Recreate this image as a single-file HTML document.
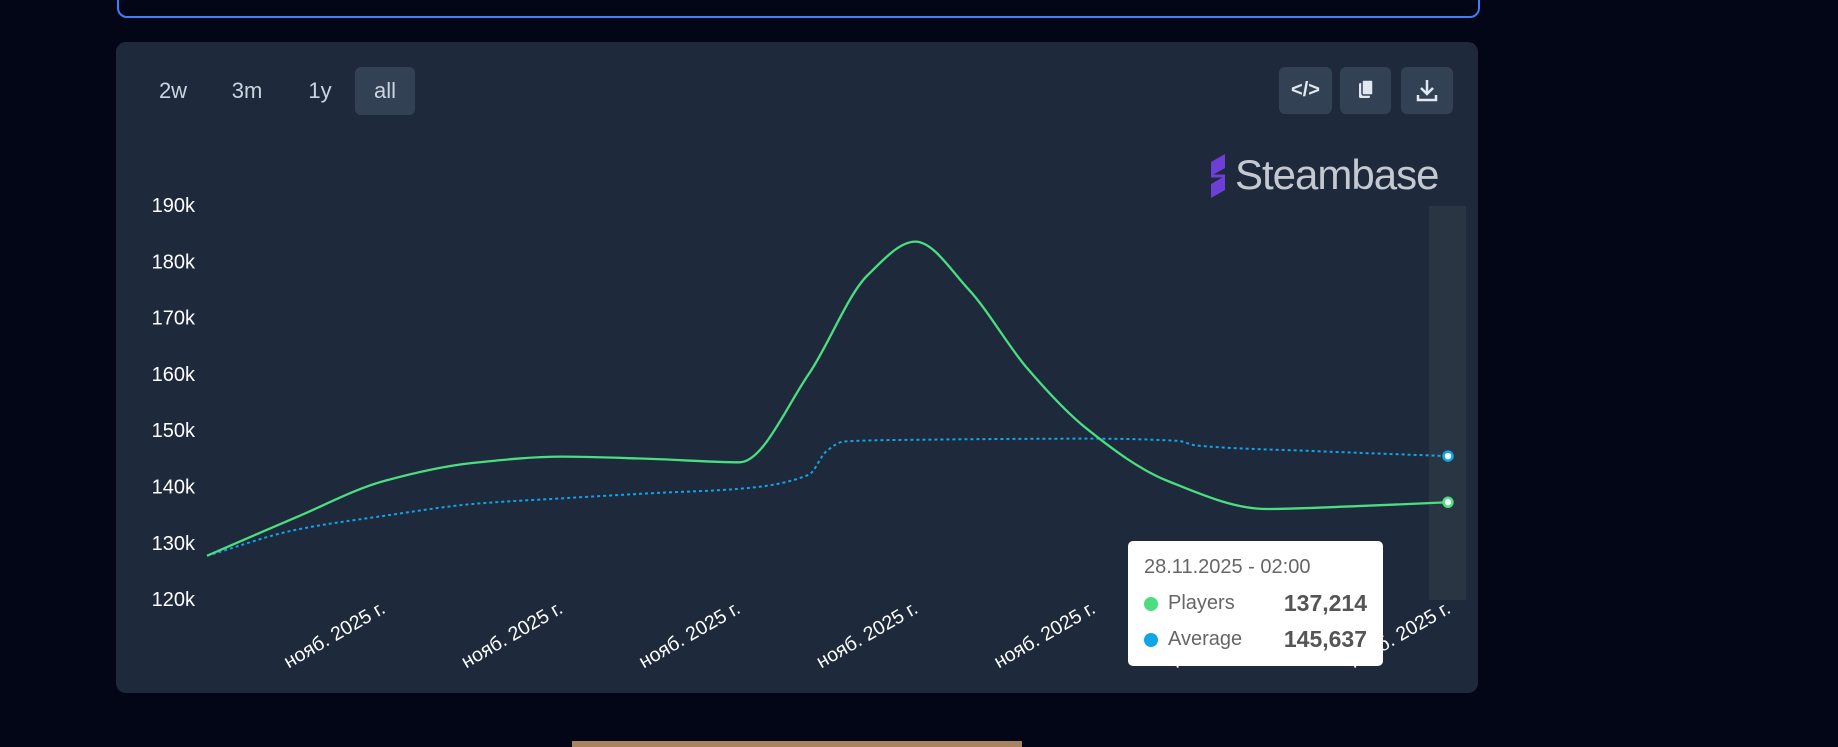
<!DOCTYPE html>
<html><head><meta charset="utf-8">
<style>
html,body{margin:0;padding:0;background:#020617;width:1838px;height:747px;overflow:hidden;font-family:"Liberation Sans",sans-serif}
.abs{position:absolute}
</style></head>
<body>
<div class="abs" style="left:117px;top:-20px;width:1359px;height:34px;border:2.5px solid #3b82f6;border-radius:10px;"></div>
<div class="abs" style="left:116px;top:42px;width:1362px;height:651px;background:#1e293b;border-radius:10px;"></div>
<div class="abs" style="left:152px;top:67px;width:42px;height:48px;line-height:48px;color:#cbd5e1;font-size:22px;text-align:center">2w</div>
<div class="abs" style="left:224px;top:67px;width:46px;height:48px;line-height:48px;color:#cbd5e1;font-size:22px;text-align:center">3m</div>
<div class="abs" style="left:300px;top:67px;width:40px;height:48px;line-height:48px;color:#cbd5e1;font-size:22px;text-align:center">1y</div>
<div class="abs" style="left:355px;top:67px;width:60px;height:48px;line-height:48px;background:#334155;border-radius:6px;color:#cbd5e1;font-size:22px;text-align:center">all</div>
<div class="abs" style="left:1279px;top:67px;width:53px;height:47px;background:#334155;border-radius:6px;color:#e2e8f0;font-size:20px;font-weight:bold;text-align:center;line-height:47px">&lt;/&gt;</div>
<div class="abs" style="left:1340px;top:67px;width:51px;height:47px;background:#334155;border-radius:6px;">
<svg width="51" height="47"><rect x="19" y="16" width="11" height="15" rx="1.5" fill="#e2e8f0"/><rect x="22" y="13" width="11" height="15" rx="1.5" fill="#e2e8f0" stroke="#334155" stroke-width="1.5"/></svg></div>
<div class="abs" style="left:1401px;top:67px;width:52px;height:47px;background:#334155;border-radius:6px;">
<svg width="52" height="47"><path d="M26 13v13M20 21l6 6 6-6" stroke="#e2e8f0" stroke-width="2.5" fill="none"/><path d="M17 28v5h18v-5" stroke="#e2e8f0" stroke-width="2.5" fill="none"/></svg></div>
<div class="abs" style="left:1207px;top:152px;width:245px;height:46px;">
<svg width="24" height="46" style="position:absolute;left:0;top:2px"><path d="M4 8 L18 0 L18 14 L4 22 Z M4 30 L18 22 L18 36 L4 44 Z" fill="#6d3fd6"/><path d="M4 22 L18 22" stroke="#6d3fd6" stroke-width="3"/></svg>
<span style="position:absolute;left:28px;top:0;font-size:42px;color:#c4c8d0;line-height:46px;letter-spacing:-1px">Steambase</span></div>
<svg class="abs" style="left:0;top:0" width="1838" height="747" id="chart"></svg>
<div class="abs" style="left:1128px;top:541px;width:255px;height:125px;background:#fff;border-radius:5px;color:#666;">
<div style="position:absolute;left:16px;top:15px;font-size:20px">28.11.2025 - 02:00</div>
<div style="position:absolute;left:16px;top:56px;width:14px;height:14px;border-radius:50%;background:#4ade80"></div>
<div style="position:absolute;left:40px;top:51px;font-size:20px">Players</div>
<div style="position:absolute;right:16px;top:49px;font-size:23px;font-weight:bold;color:#555">137,214</div>
<div style="position:absolute;left:16px;top:92px;width:14px;height:14px;border-radius:50%;background:#0ea5e9"></div>
<div style="position:absolute;left:40px;top:87px;font-size:20px">Average</div>
<div style="position:absolute;right:16px;top:85px;font-size:23px;font-weight:bold;color:#555">145,637</div>
</div>
<div class="abs" style="left:572px;top:741px;width:450px;height:6px;background:#a9835f"></div>
<script>
const yTicks=[120,130,140,150,160,170,180,190];
const xTickLabels=["нояб. 2025 г.","нояб. 2025 г.","нояб. 2025 г.","нояб. 2025 г.","нояб. 2025 г.","нояб. 2025 г.","нояб. 2025 г."];
const playersX=[0,0.5,1,1.5,2,2.5,3,3.39,3.72,3.99,4.29,4.62,4.95,5.41,5.97,6.47,6.99];
const playersY=[127.7,134.5,141.0,144.2,145.3,144.9,144.3,160.0,177.5,183.5,175.0,161.0,150.4,141.0,136.0,136.5,137.2];
const avgX=[0,0.5,1,1.5,2,2.5,3,3.39,3.49,3.59,3.99,4.98,5.47,5.57,6.23,6.99];
const avgY=[127.7,132.3,134.8,136.9,137.9,138.8,139.6,142.1,146.3,148.0,148.3,148.5,148.1,147.3,146.3,145.4];
const ns="http://www.w3.org/2000/svg";
const svg=document.getElementById('chart');
const X0=207,X1=1448,XMAX=6.99;
function xs(v){return X0+(X1-X0)*v/XMAX;}
function ys(v){return 205+(190-v)*5.63;}
function mk(t,a){const e=document.createElementNS(ns,t);for(const k in a)e.setAttribute(k,a[k]);svg.appendChild(e);return e;}
const hl=mk('rect',{x:1429,y:206,width:37,height:394,fill:'#2a3544'});


yTicks.forEach(t=>{const e=mk('text',{x:195,y:ys(t)+7,fill:'#fff','font-size':20,'text-anchor':'end','font-family':'Liberation Sans, sans-serif'});e.textContent=t+'k';

});
xTickLabels.forEach((t,i)=>{const x=xs(i+1)+2,y=612;const e=mk('text',{x:x,y:y,fill:'#fff','font-size':19.5,'text-anchor':'end','font-family':'Liberation Sans, sans-serif',transform:`rotate(-30 ${x} ${y})`});e.textContent=t;

});
function path(xa,ya){const p=xa.map((x,i)=>[xs(x),ys(ya[i])]);const n=p.length;
const d=[],m=[];for(let i=0;i<n-1;i++)d.push((p[i+1][1]-p[i][1])/(p[i+1][0]-p[i][0]));
for(let i=0;i<n;i++){if(i==0)m.push(d[0]);else if(i==n-1)m.push(d[n-2]);else if(d[i-1]*d[i]<=0)m.push(0);else{const h0=p[i][0]-p[i-1][0],h1=p[i+1][0]-p[i][0];m.push(3*(h0+h1)/((2*h1+h0)/d[i-1]+(h1+2*h0)/d[i]));}}
let s='M'+p[0][0]+' '+p[0][1];
for(let i=0;i<n-1;i++){const h=(p[i+1][0]-p[i][0])/3;s+=` C${p[i][0]+h} ${p[i][1]+m[i]*h} ${p[i+1][0]-h} ${p[i+1][1]-m[i+1]*h} ${p[i+1][0]} ${p[i+1][1]}`;}return s;}
const la=mk('path',{d:path(avgX,avgY),fill:'none',stroke:'#0ea5e9','stroke-width':2,'stroke-dasharray':'3 3'});


const lp=mk('path',{d:path(playersX,playersY),fill:'none',stroke:'#4ade80','stroke-width':2.3});


const pa=mk('circle',{cx:xs(avgX[avgX.length-1]),cy:ys(avgY[avgY.length-1]),r:4.5,fill:'#fff',stroke:'#0ea5e9','stroke-width':2.5});


const pp=mk('circle',{cx:xs(playersX[playersX.length-1]),cy:ys(playersY[playersY.length-1]),r:4.5,fill:'#fff',stroke:'#4ade80','stroke-width':2.5});


</script>
</body></html>
